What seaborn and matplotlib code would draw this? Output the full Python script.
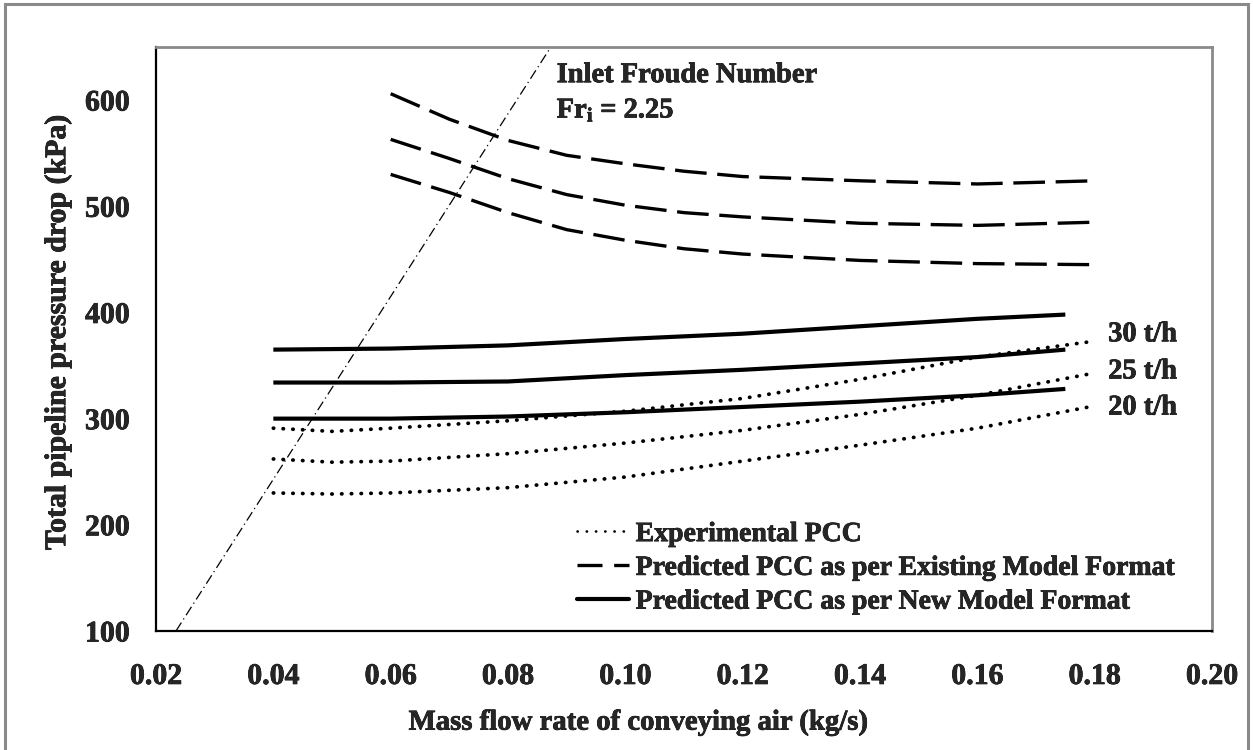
import matplotlib
matplotlib.use("Agg")
import matplotlib.pyplot as plt
import matplotlib.patheffects as pe
from matplotlib.lines import Line2D
from matplotlib.patches import Rectangle
import seaborn as sns

# Solids throughput curves (t/h)
rates = ["30 t/h", "25 t/h", "20 t/h"]

# Experimental pipeline conveying characteristics
exp_x = [0.04, 0.05, 0.06, 0.08, 0.10, 0.12, 0.14, 0.16, 0.18]
exp_30 = [291, 288, 291, 298, 307, 319, 337, 358, 373]
exp_25 = [262, 259, 260, 267, 277, 289, 304, 322, 343]
exp_20 = [230, 229, 230, 235, 245, 260, 275, 291, 312]

# Predicted with the existing model format
old_x = [0.06, 0.07, 0.08, 0.09, 0.10, 0.11, 0.12, 0.14, 0.16, 0.18]
old_30 = [606, 582, 562, 548, 540, 533, 528, 524, 521, 524]
old_25 = [563, 545, 526, 511, 501, 494, 490, 484, 482, 485]
old_20 = [530, 513, 494, 478, 468, 460, 455, 449, 446, 445]

# Predicted with the new model format
new_x = [0.04, 0.06, 0.08, 0.10, 0.12, 0.14, 0.16, 0.175]
new_30 = [365, 366, 369, 375, 380, 387, 394, 398]
new_25 = [334, 334, 335, 341, 346, 352, 358, 365]
new_20 = [300, 300, 302, 306, 311, 316, 322, 328]

# Inlet Froude number boundary (Fr_i = 2.25)
froude_x = [0.0234, 0.0873]
froude_y = [100, 650]

# Curve-end labels
label_y = [379, 344, 310]

x_ticks = [0.02, 0.04, 0.06, 0.08, 0.10, 0.12, 0.14, 0.16, 0.18, 0.20]
y_ticks = [100, 200, 300, 400, 500, 600]

sns.set_theme(style="white")
plt.rcParams["font.family"] = ["Liberation Serif", "DejaVu Serif"]
plt.rcParams["font.weight"] = "bold"
plt.rcParams["mathtext.fontset"] = "custom"
plt.rcParams["mathtext.rm"] = "Liberation Serif:bold"
plt.rcParams["mathtext.it"] = "Liberation Serif:bold"

# slightly heavier glyphs for all text
heavy = [pe.withStroke(linewidth=0.5, foreground="black")]

fig = plt.figure(figsize=(12.53, 7.5), dpi=100)
ax = fig.add_axes([156 / 1253, 119 / 750, 1056 / 1253, 584 / 750])

exp_style = dict(color="black", lw=2.7, linestyle=(0, (0.1, 2.5)),
                 dash_capstyle="round")
old_style = dict(color="black", lw=2.4, linestyle=(0, (9.5, 3.2)))
new_style = dict(color="black", lw=3.0, linestyle="-", solid_capstyle="butt")

for ys in (exp_30, exp_25, exp_20):
    sns.lineplot(x=exp_x, y=ys, ax=ax, **exp_style)
for ys in (old_30, old_25, old_20):
    sns.lineplot(x=old_x, y=ys, ax=ax, **old_style)
for ys in (new_30, new_25, new_20):
    sns.lineplot(x=new_x, y=ys, ax=ax, **new_style)

sns.lineplot(x=froude_x, y=froude_y, ax=ax, color="black", lw=0.9,
             linestyle=(0, (8, 3, 1, 3)))

ax.set_xlim(0.02, 0.20)
ax.set_ylim(100, 650)
ax.set_xticks(x_ticks)
ax.set_xticklabels([f"{v:.2f}" for v in x_ticks])
ax.set_yticks(y_ticks)
ax.set_yticklabels([str(v) for v in y_ticks])
ax.tick_params(axis="both", which="major", direction="out", length=7,
               width=1.3, color="black", labelsize=21.5)
ax.tick_params(axis="x", pad=16)
ax.tick_params(axis="y", pad=12)
for lab in ax.get_xticklabels() + ax.get_yticklabels():
    lab.set_fontweight("bold")
    lab.set_path_effects(heavy)

ax.set_xlabel("Mass flow rate of conveying air (kg/s)", fontsize=20.7,
              fontweight="bold", path_effects=heavy)
ax.set_ylabel("Total pipeline pressure drop (kPa)", fontsize=21.5,
              fontweight="bold", path_effects=heavy)
ax.xaxis.set_label_coords(0.457, -0.133)
ax.yaxis.set_label_coords(-0.080, 0.512)

for side in ("left", "bottom"):
    ax.spines[side].set_color("black")
    ax.spines[side].set_linewidth(1.6)
for side in ("top", "right"):
    ax.spines[side].set_color("#8a8a8a")
    ax.spines[side].set_linewidth(2.0)

ax.text(0.0883, 623, "Inlet Froude Number", fontsize=20.5, fontweight="bold",
        ha="left", va="center", path_effects=heavy)
ax.text(0.0883, 590, r"Fr$_\mathregular{i}$ = 2.25", fontsize=20.5,
        fontweight="bold", ha="left", va="center", path_effects=heavy)

for txt, yv in zip(rates, label_y):
    ax.text(0.1823, yv, txt, fontsize=20.5, fontweight="bold", ha="left",
            va="center", path_effects=heavy)

handles = [
    Line2D([], [], color="black", lw=1.9, linestyle=(0, (0.1, 3.4)),
           dash_capstyle="round"),
    Line2D([], [], color="black", lw=2.4, linestyle=(0, (7.5, 3.5))),
    Line2D([], [], color="black", lw=3.0, linestyle="-"),
]
labels = [
    "Experimental PCC",
    "Predicted PCC as per Existing Model Format",
    "Predicted PCC as per New Model Format",
]
leg = ax.legend(handles, labels, loc="lower left",
                bbox_to_anchor=(0.399, 0.028), frameon=False,
                handlelength=1.85, handletextpad=0.25, labelspacing=0.3,
                borderpad=0.0, borderaxespad=0.0,
                prop={"weight": "bold", "size": 20})
for t in leg.get_texts():
    t.set_path_effects(heavy)

# Outer frame around the whole chart
fig.patches.append(Rectangle((5 / 1253, -0.05), 1243 / 1253, 1.05 - 4 / 750,
                             transform=fig.transFigure, fill=False,
                             edgecolor="#8a8a8a", lw=2.2))

fig.savefig("out.png", dpi=100)
